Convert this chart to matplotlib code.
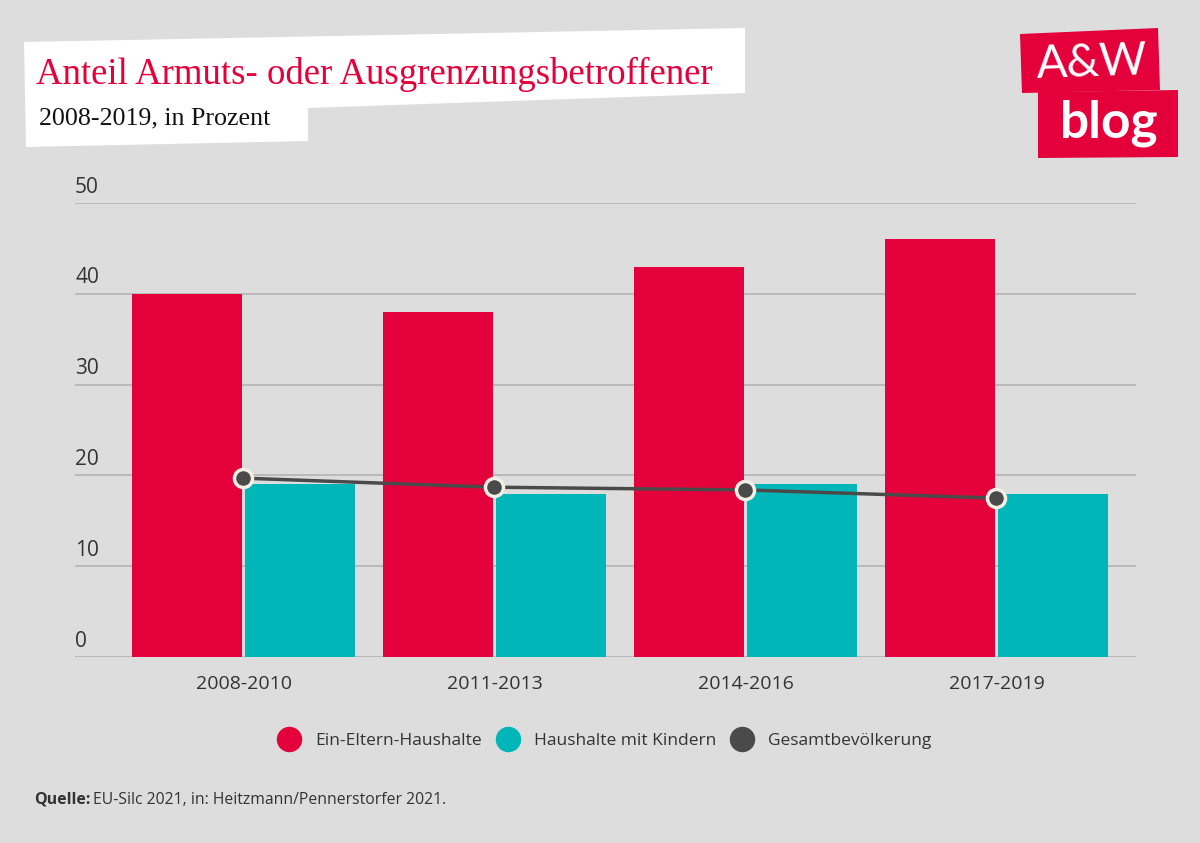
import numpy as np
import matplotlib.pyplot as plt
from matplotlib.patches import Polygon

# Daten
perioden = ['2008-2010', '2011-2013', '2014-2016', '2017-2019']
ein_eltern = [40, 38, 43, 46]
mit_kindern = [19, 18, 19, 18]
gesamt = [19.7, 18.7, 18.4, 17.5]
y_ticks = [0, 10, 20, 30, 40, 50]
serien = ['Ein-Eltern-Haushalte', 'Haushalte mit Kindern', 'Gesamtbevölkerung']

ROT = '#e4003a'
TUERKIS = '#00b6b9'
GRAU = '#4a4a4a'
BG = '#dddddd'

plt.rcParams['font.family'] = ['Open Sans', 'DejaVu Sans']

W, H = 1200, 843
fig = plt.figure(figsize=(12, 8.43), dpi=100, facecolor=BG)

# Plotbereich in Pixeln: x 75..1136, y 203..657
ax = fig.add_axes([75 / W, 1 - 657 / H, (1136 - 75) / W, (657 - 203) / H])
ax.set_facecolor(BG)

x = np.arange(len(perioden))
bw = 0.438
ax.bar(x - 0.227, ein_eltern, width=bw, color=ROT, zorder=2)
ax.bar(x + 0.223, mit_kindern, width=bw, color=TUERKIS, zorder=2)
ax.plot(x - 0.005, gesamt, color=GRAU, lw=2.5, zorder=3,
        marker='o', ms=13, mfc=GRAU, mec='#f2f0e4', mew=2.5)

ax.set_xlim(-0.673, 3.554)
ax.set_ylim(0, 50)
ax.set_yticks(y_ticks)
ax.yaxis.grid(True, color='#b4b4b4', lw=1.2, zorder=0)
ax.set_yticklabels([])
ax.tick_params(axis='y', length=0)
for t in y_ticks:
    ax.text(0, t + 0.6, str(t), transform=ax.get_yaxis_transform(),
            ha='left', va='bottom', fontsize=15, color='#333333')

ax.set_xticks(x)
ax.set_xticklabels(perioden, fontsize=14, color='#333333')
ax.tick_params(axis='x', length=0, pad=13)
for s in ax.spines.values():
    s.set_visible(False)

# Titelbox
box = Polygon([(24 / W, 1 - 42 / H), (745 / W, 1 - 28 / H), (745 / W, 1 - 93 / H),
               (308 / W, 1 - 108 / H), (308 / W, 1 - 141 / H), (26 / W, 1 - 147 / H)],
              closed=True, transform=fig.transFigure, facecolor='white', edgecolor='none')
fig.patches.append(box)
fig.text(36 / W, 1 - 74 / H, 'Anteil Armuts- oder Ausgrenzungsbetroffener',
         fontsize=26.5, color=ROT, family=['Liberation Serif'], va='center', ha='left')
fig.text(39 / W, 1 - 118 / H, '2008-2019, in Prozent', fontsize=18.7,
         color='#111111', family=['Liberation Serif'], va='center', ha='left')

# Logo
logo1 = Polygon([(1020 / W, 1 - 34 / H), (1158 / W, 1 - 28 / H), (1160 / W, 1 - 90 / H),
                 (1022 / W, 1 - 93 / H)], closed=True, transform=fig.transFigure,
                facecolor=ROT, edgecolor='none')
logo2 = Polygon([(1038 / W, 1 - 92 / H), (1178 / W, 1 - 90 / H), (1178 / W, 1 - 157 / H),
                 (1038 / W, 1 - 158 / H)], closed=True, transform=fig.transFigure,
                facecolor=ROT, edgecolor='none')
fig.patches.extend([logo1, logo2])
fig.text(1092 / W, 1 - 63 / H, 'A&W', fontsize=33, color='white', ha='center',
         va='center', family=['Lato', 'DejaVu Sans'], rotation=2)
fig.text(1109 / W, 1 - 123 / H, 'blog', fontsize=37, color='white', ha='center',
         va='center', family=['Lato', 'DejaVu Sans'], fontweight='bold')

# Legende
farben = [ROT, TUERKIS, GRAU]
handles = [plt.Line2D([], [], ls='none', marker='o', ms=17.3, mfc=c, mec=c) for c in farben]
fig.legend(handles, serien, loc='center', bbox_to_anchor=(604.5 / W, 1 - 741 / H),
           ncol=3, frameon=False, fontsize=12.5, handletextpad=0.8, columnspacing=0.8,
           handlelength=1.4, labelcolor='#333333', borderpad=0, borderaxespad=0)

# Quelle
fig.text(34 / W, 1 - 800 / H, 'Quelle:', fontsize=11.5, fontweight='bold',
         color='#333333', va='center')
fig.text(93 / W, 1 - 800 / H, 'EU-Silc 2021, in: Heitzmann/Pennerstorfer 2021.',
         fontsize=11.3, color='#333333', va='center')

fig.savefig('out.png', dpi=100, facecolor=BG)
